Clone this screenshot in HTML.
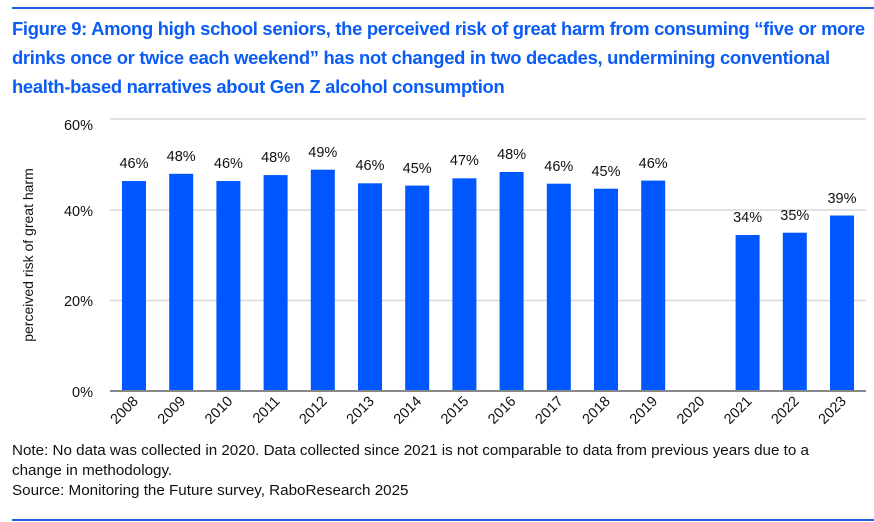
<!DOCTYPE html>
<html><head><meta charset="utf-8"><style>
body{margin:0;width:874px;height:522px;background:#fff;position:relative;font-family:"Liberation Sans",sans-serif;overflow:hidden}
.hl{position:absolute;left:12px;width:862px;height:2px;background:#1f5fe0}
.t{position:absolute;left:12px;top:14px;width:870px;color:#0a5cf5;font-weight:bold;font-size:18.4px;line-height:29px;letter-spacing:-0.3px;white-space:nowrap}
.n{position:absolute;left:12px;top:441px;font-size:15.2px;line-height:20px;color:#111;white-space:nowrap}
</style></head><body>
<div class="hl" style="top:7px"></div>
<div class="t">Figure 9: Among high school seniors, the perceived risk of great harm from consuming “five or more<br>drinks once or twice each weekend” has not changed in two decades, undermining conventional<br>health-based narratives about Gen Z alcohol consumption</div>
<svg width="874" height="522" style="position:absolute;left:0;top:0" font-family="Liberation Sans,sans-serif">
<g stroke="#d9d9d9" stroke-width="1.5">
<line x1="110" x2="866" y1="119" y2="119"/><line x1="110" x2="866" y1="210" y2="210"/><line x1="110" x2="866" y1="300.5" y2="300.5"/>
</g>
<g font-size="14.5" fill="#111" text-anchor="end">
<text x="93" y="130">60%</text><text x="93" y="216">40%</text><text x="93" y="306">20%</text><text x="93" y="397">0%</text>
</g>
<text transform="translate(33,255) rotate(-90)" text-anchor="middle" font-size="14" fill="#111">perceived risk of great harm</text>
<g fill="#0057ff">
<rect x="122" y="181" width="24" height="210"/>
<rect x="169.2" y="173.8" width="24" height="217.2"/>
<rect x="216.4" y="181" width="24" height="210"/>
<rect x="263.6" y="175.1" width="24" height="215.9"/>
<rect x="310.8" y="169.7" width="24" height="221.3"/>
<rect x="358" y="183.3" width="24" height="207.7"/>
<rect x="405.2" y="185.6" width="24" height="205.4"/>
<rect x="452.4" y="178.3" width="24" height="212.7"/>
<rect x="499.6" y="172" width="24" height="219"/>
<rect x="546.8" y="183.7" width="24" height="207.3"/>
<rect x="594" y="188.7" width="24" height="202.3"/>
<rect x="641.2" y="180.6" width="24" height="210.4"/>
<rect x="735.6" y="235" width="24" height="156"/>
<rect x="782.8" y="232.7" width="24" height="158.3"/>
<rect x="830" y="215.5" width="24" height="175.5"/>
</g>
<g font-size="14.5" fill="#111" text-anchor="middle">
<text x="134" y="168">46%</text>
<text x="181.2" y="161">48%</text>
<text x="228.4" y="168">46%</text>
<text x="275.6" y="162">48%</text>
<text x="322.8" y="157">49%</text>
<text x="370" y="170">46%</text>
<text x="417.2" y="173">45%</text>
<text x="464.4" y="165">47%</text>
<text x="511.6" y="159">48%</text>
<text x="558.8" y="171">46%</text>
<text x="606" y="176">45%</text>
<text x="653.2" y="168">46%</text>
<text x="747.6" y="222">34%</text>
<text x="794.8" y="220">35%</text>
<text x="842" y="203">39%</text>
</g>
<line x1="110" x2="866" y1="391" y2="391" stroke="#888" stroke-width="2"/>
<g font-size="14.5" fill="#111" text-anchor="end">
<text transform="translate(139,402) rotate(-45)">2008</text>
<text transform="translate(186.2,402) rotate(-45)">2009</text>
<text transform="translate(233.4,402) rotate(-45)">2010</text>
<text transform="translate(280.6,402) rotate(-45)">2011</text>
<text transform="translate(327.8,402) rotate(-45)">2012</text>
<text transform="translate(375,402) rotate(-45)">2013</text>
<text transform="translate(422.2,402) rotate(-45)">2014</text>
<text transform="translate(469.4,402) rotate(-45)">2015</text>
<text transform="translate(516.6,402) rotate(-45)">2016</text>
<text transform="translate(563.8,402) rotate(-45)">2017</text>
<text transform="translate(611,402) rotate(-45)">2018</text>
<text transform="translate(658.2,402) rotate(-45)">2019</text>
<text transform="translate(705.4,402) rotate(-45)">2020</text>
<text transform="translate(752.6,402) rotate(-45)">2021</text>
<text transform="translate(799.8,402) rotate(-45)">2022</text>
<text transform="translate(847,402) rotate(-45)">2023</text>
</g>
</svg>
<div class="n">Note: No data was collected in 2020. Data collected since 2021 is not comparable to data from previous years due to a<br>change in methodology.<br>Source: Monitoring the Future survey, RaboResearch 2025</div>
<div class="hl" style="top:519px"></div>
</body></html>
